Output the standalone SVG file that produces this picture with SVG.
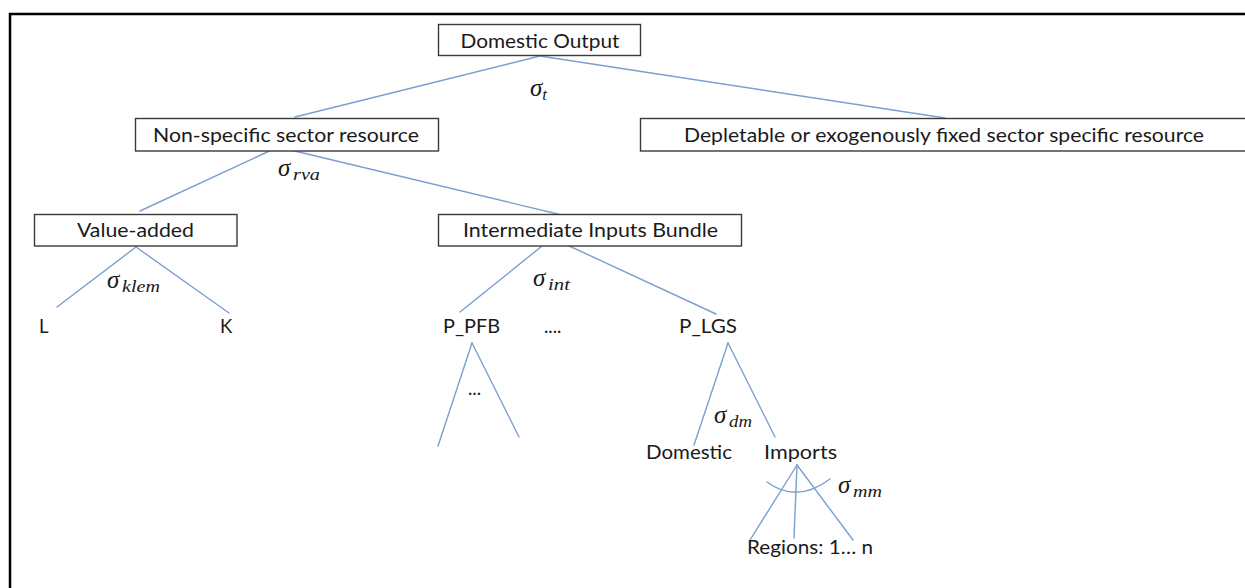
<svg xmlns="http://www.w3.org/2000/svg" width="1245" height="588" viewBox="0 0 1245 588">
  <style>
    .box { fill: #ffffff; stroke: #3a3a3a; stroke-width: 1.4; }
    .lbl { font-family: Lato, "Open Sans", "Liberation Sans", sans-serif; font-size: 18.5px; fill: #1a1a1a; }
    .mid { text-anchor: middle; }
    .edge { fill: none; stroke: #7b9fd0; stroke-width: 1.4; stroke-linecap: round; }
    .sig { font-family: "Liberation Serif", "DejaVu Serif", serif; font-style: italic; font-size: 25px; fill: #1a1a1a; }
    .sub { font-size: 17px; }
  </style>

  <rect width="1245" height="588" fill="#ffffff"/>
  <!-- outer frame -->
  <path d="M10,590 V14 H1247" fill="none" stroke="#000000" stroke-width="2.5"/>

  <!-- connectors -->
  <g id="connectors">
    <line class="edge" x1="540" y1="56" x2="295" y2="117"/>
    <line class="edge" x1="540" y1="56" x2="945" y2="118"/>
    <line class="edge" x1="278" y1="147" x2="140" y2="211"/>
    <line class="edge" x1="278" y1="147" x2="566" y2="216"/>
    <line class="edge" x1="136" y1="247" x2="57" y2="307"/>
    <line class="edge" x1="136" y1="247" x2="229" y2="313"/>
    <line class="edge" x1="552" y1="238" x2="460" y2="312"/>
    <line class="edge" x1="552" y1="238" x2="716" y2="314"/>
    <line class="edge" x1="472" y1="343" x2="438" y2="446"/>
    <line class="edge" x1="472" y1="343" x2="519" y2="437"/>
    <line class="edge" x1="728" y1="343" x2="694" y2="445"/>
    <line class="edge" x1="728" y1="343" x2="775" y2="437"/>
    <line class="edge" x1="797" y1="465" x2="750" y2="540"/>
    <line class="edge" x1="797" y1="465" x2="794" y2="538"/>
    <line class="edge" x1="797" y1="465" x2="853" y2="540"/>
    <path class="edge" d="M767,482 Q797,504 830,479"/>
  </g>

  <!-- nodes -->
  <g id="domestic-output">
    <rect class="box" x="438.5" y="24.5" width="202" height="31"/>
    <text class="lbl mid" x="540" y="48" textLength="159" lengthAdjust="spacingAndGlyphs">Domestic Output</text>
  </g>
  <g id="sigma-t">
    <text class="sig" x="530" y="96">σ<tspan class="sub" dy="4">t</tspan></text>
  </g>

  <g id="non-specific">
    <rect class="box" x="135.5" y="118.5" width="303" height="32.5"/>
    <text class="lbl mid" x="286" y="142" textLength="266" lengthAdjust="spacingAndGlyphs">Non-specific sector resource</text>
  </g>
  <g id="sector-specific">
    <rect class="box" x="640.5" y="118.5" width="620" height="32.5"/>
    <text class="lbl mid" x="944" y="142" textLength="520" lengthAdjust="spacingAndGlyphs">Depletable or exogenously fixed sector specific resource</text>
  </g>
  <g id="sigma-rva">
    <text class="sig" x="278" y="176">σ<tspan class="sub" x="293" dy="4" textLength="27" lengthAdjust="spacingAndGlyphs">rva</tspan></text>
  </g>

  <g id="value-added">
    <rect class="box" x="34.5" y="214.5" width="202.5" height="31.5"/>
    <text class="lbl mid" x="135.5" y="237" textLength="117" lengthAdjust="spacingAndGlyphs">Value-added</text>
  </g>
  <g id="intermediate">
    <rect class="box" x="438.5" y="214.5" width="303" height="31.5"/>
    <text class="lbl mid" x="590.5" y="237" textLength="255" lengthAdjust="spacingAndGlyphs">Intermediate Inputs Bundle</text>
  </g>

  <g id="sigma-klem">
    <text class="sig" x="107" y="288">σ<tspan class="sub" x="122" dy="4" textLength="38" lengthAdjust="spacingAndGlyphs">klem</tspan></text>
  </g>
  <g id="labour">
    <text class="lbl" x="39" y="333">L</text>
  </g>
  <g id="capital">
    <text class="lbl" x="220" y="333">K</text>
  </g>

  <g id="sigma-int">
    <text class="sig" x="533" y="286">σ<tspan class="sub" x="548" dy="4" textLength="22" lengthAdjust="spacingAndGlyphs">int</tspan></text>
  </g>
  <g id="p-pfb">
    <text class="lbl" x="443" y="333" textLength="57" lengthAdjust="spacingAndGlyphs">P_PFB</text>
  </g>
  <g id="ellipsis-mid">
    <text class="lbl" x="544" y="333">....</text>
  </g>
  <g id="p-lgs">
    <text class="lbl" x="679" y="333" textLength="58" lengthAdjust="spacingAndGlyphs">P_LGS</text>
  </g>
  <g id="pfb-ellipsis">
    <text class="lbl" x="468" y="395">...</text>
  </g>

  <g id="sigma-dm">
    <text class="sig" x="714" y="423">σ<tspan class="sub" x="729" dy="4" textLength="23" lengthAdjust="spacingAndGlyphs">dm</tspan></text>
  </g>
  <g id="domestic">
    <text class="lbl" x="646" y="459" textLength="86" lengthAdjust="spacingAndGlyphs">Domestic</text>
  </g>
  <g id="imports">
    <text class="lbl" x="764" y="459" textLength="73" lengthAdjust="spacingAndGlyphs">Imports</text>
  </g>
  <g id="sigma-mm">
    <text class="sig" x="838" y="493">σ<tspan class="sub" x="853" dy="4" textLength="29" lengthAdjust="spacingAndGlyphs">mm</tspan></text>
  </g>
  <g id="regions">
    <text class="lbl" x="747" y="554" textLength="126" lengthAdjust="spacingAndGlyphs">Regions: 1… n</text>
  </g>
</svg>
